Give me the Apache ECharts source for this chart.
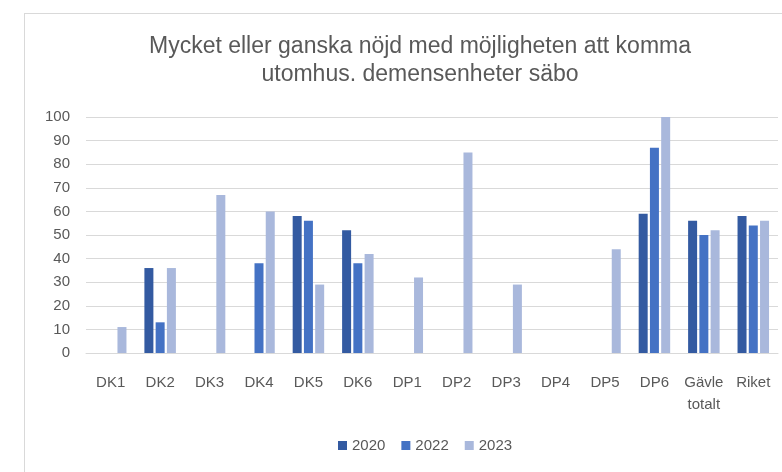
<!DOCTYPE html>
<html>
<head>
<meta charset="utf-8">
<script src="https://cdn.jsdelivr.net/npm/echarts@6/dist/echarts.min.js"></script>
<style>
    body { margin: 0; background: #fff; }
    .frame { position: absolute; left: 24px; top: 13px; width: 800px; height: 500px; border-left: 1px solid #d9d9d9; border-top: 1px solid #d9d9d9; }
    #chart { position: absolute; left: 0; top: 0; width: 782px; height: 472px; }
</style>
</head>
<body>
<div class="frame"></div>
<div id="chart"></div>
<script>
var categories = ['DK1', 'DK2', 'DK3', 'DK4', 'DK5', 'DK6', 'DP1', 'DP2', 'DP3', 'DP4', 'DP5', 'DP6', 'Gävle\ntotalt', 'Riket'];
var data2020 = ['-', 36, '-', '-', 58, 52, '-', '-', '-', '-', '-', 59, 56, 58];
var data2022 = ['-', 13, '-', 38, 56, 38, '-', '-', '-', '-', '-', 87, 50, 54];
var data2023 = [11, 36, 67, 60, 29, 42, 32, 85, 29, '-', 44, 100, 52, 56];
var yTicks = { min: 0, max: 100, interval: 10 };

var chart = echarts.init(document.getElementById('chart'));
var textColor = '#595959';
var font = 'Liberation Sans';
chart.setOption({
    color: ['#335aa1', '#4472c4', '#a9b8dc'],
    title: {
        text: 'Mycket eller ganska nöjd med möjligheten att komma\nutomhus. demensenheter säbo',
        left: 415,
        top: 28,
        textAlign: 'center',
        textStyle: { fontFamily: font, fontSize: 23, fontWeight: 'normal', color: textColor, lineHeight: 28 }
    },
    legend: {
        bottom: 14,
        left: 333,
        itemWidth: 9,
        itemHeight: 9,
        itemGap: 16,
        icon: 'rect',
        textStyle: { fontFamily: font, fontSize: 15, color: textColor },
        data: ['2020', '2022', '2023']
    },
    grid: { left: 86, right: 4, top: 117, bottom: 119 },
    xAxis: {
        type: 'category',
        data: categories,
        axisLine: { lineStyle: { color: '#d9d9d9' } },
        axisTick: { show: false },
        axisLabel: { interval: 0, fontFamily: font, fontSize: 15, color: textColor, margin: 19, lineHeight: 22 }
    },
    yAxis: {
        type: 'value',
        min: yTicks.min,
        max: yTicks.max,
        interval: yTicks.interval,
        axisLine: { show: false },
        axisTick: { show: false },
        axisLabel: { fontFamily: font, fontSize: 15, color: textColor, margin: 16 },
        splitLine: { lineStyle: { color: '#d9d9d9' } }
    },
    series: [
        { name: '2020', type: 'bar', barWidth: 9, barGap: '25%', data: data2020 },
        { name: '2022', type: 'bar', barWidth: 9, barGap: '25%', data: data2022 },
        { name: '2023', type: 'bar', barWidth: 9, barGap: '25%', data: data2023 }
    ]
});
</script>
</body>
</html>
